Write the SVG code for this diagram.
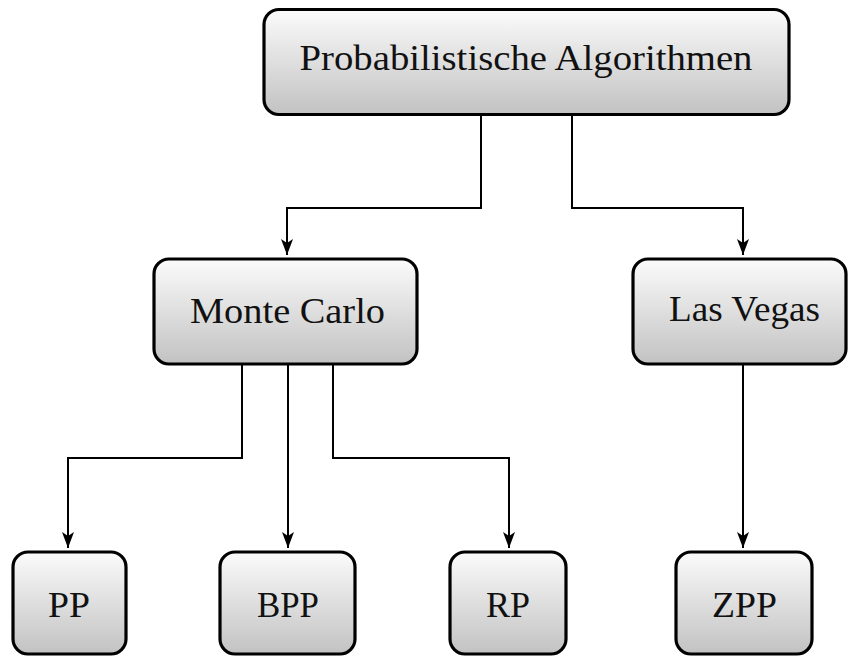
<svg xmlns="http://www.w3.org/2000/svg" width="848" height="657" viewBox="0 0 848 657">
  <defs>
    <linearGradient id="boxFill" x1="0" y1="0" x2="0" y2="1">
      <stop offset="0" stop-color="#fbfbfb"/>
      <stop offset="1" stop-color="#c2c2c2"/>
    </linearGradient>
    <marker id="arrow" viewBox="-17 -7 19 14" markerWidth="19" markerHeight="14" refX="0" refY="0" orient="auto" markerUnits="userSpaceOnUse">
      <path d="M0,0 L-16,-6 L-12,0 L-16,6 Z" fill="#000"/>
    </marker>
  </defs>
  <style>
    .box { fill: url(#boxFill); stroke: #000; stroke-width: 3.2; }
    .label { font-family: "Liberation Serif", "DejaVu Serif", serif; font-size: 36px; fill: #111; text-anchor: middle; }
    .link { fill: none; stroke: #000; stroke-width: 2; marker-end: url(#arrow); }
  </style>

  <g id="connectors">
    <path class="link" d="M481,115 V208 H287 V255"/>
    <path class="link" d="M572,115 V208 H743 V255"/>
    <path class="link" d="M242,365 V458 H68 V548"/>
    <path class="link" d="M288,365 V548"/>
    <path class="link" d="M333,365 V458 H509 V548"/>
    <path class="link" d="M743,365 V548"/>
  </g>

  <g id="probabilistische-algorithmen">
    <rect class="box" x="264" y="9.5" width="525" height="105" rx="15"/>
    <text class="label" x="526" y="70" textLength="453" lengthAdjust="spacingAndGlyphs">Probabilistische Algorithmen</text>
  </g>
  <g id="monte-carlo">
    <rect class="box" x="154" y="259" width="263" height="105" rx="15"/>
    <text class="label" x="287.5" y="323" textLength="195" lengthAdjust="spacingAndGlyphs">Monte Carlo</text>
  </g>
  <g id="las-vegas">
    <rect class="box" x="633" y="259" width="213" height="105" rx="15"/>
    <text class="label" x="744.5" y="321" textLength="151" lengthAdjust="spacingAndGlyphs">Las Vegas</text>
  </g>
  <g id="pp">
    <rect class="box" x="13" y="552" width="113" height="102" rx="15"/>
    <text class="label" x="69" y="617" textLength="42" lengthAdjust="spacingAndGlyphs">PP</text>
  </g>
  <g id="bpp">
    <rect class="box" x="220" y="552" width="135" height="102" rx="15"/>
    <text class="label" x="288" y="617" textLength="62" lengthAdjust="spacingAndGlyphs">BPP</text>
  </g>
  <g id="rp">
    <rect class="box" x="450" y="552" width="116" height="102" rx="15"/>
    <text class="label" x="508" y="617" textLength="44" lengthAdjust="spacingAndGlyphs">RP</text>
  </g>
  <g id="zpp">
    <rect class="box" x="676" y="552" width="136" height="102" rx="15"/>
    <text class="label" x="744.5" y="617" textLength="65" lengthAdjust="spacingAndGlyphs">ZPP</text>
  </g>
</svg>
